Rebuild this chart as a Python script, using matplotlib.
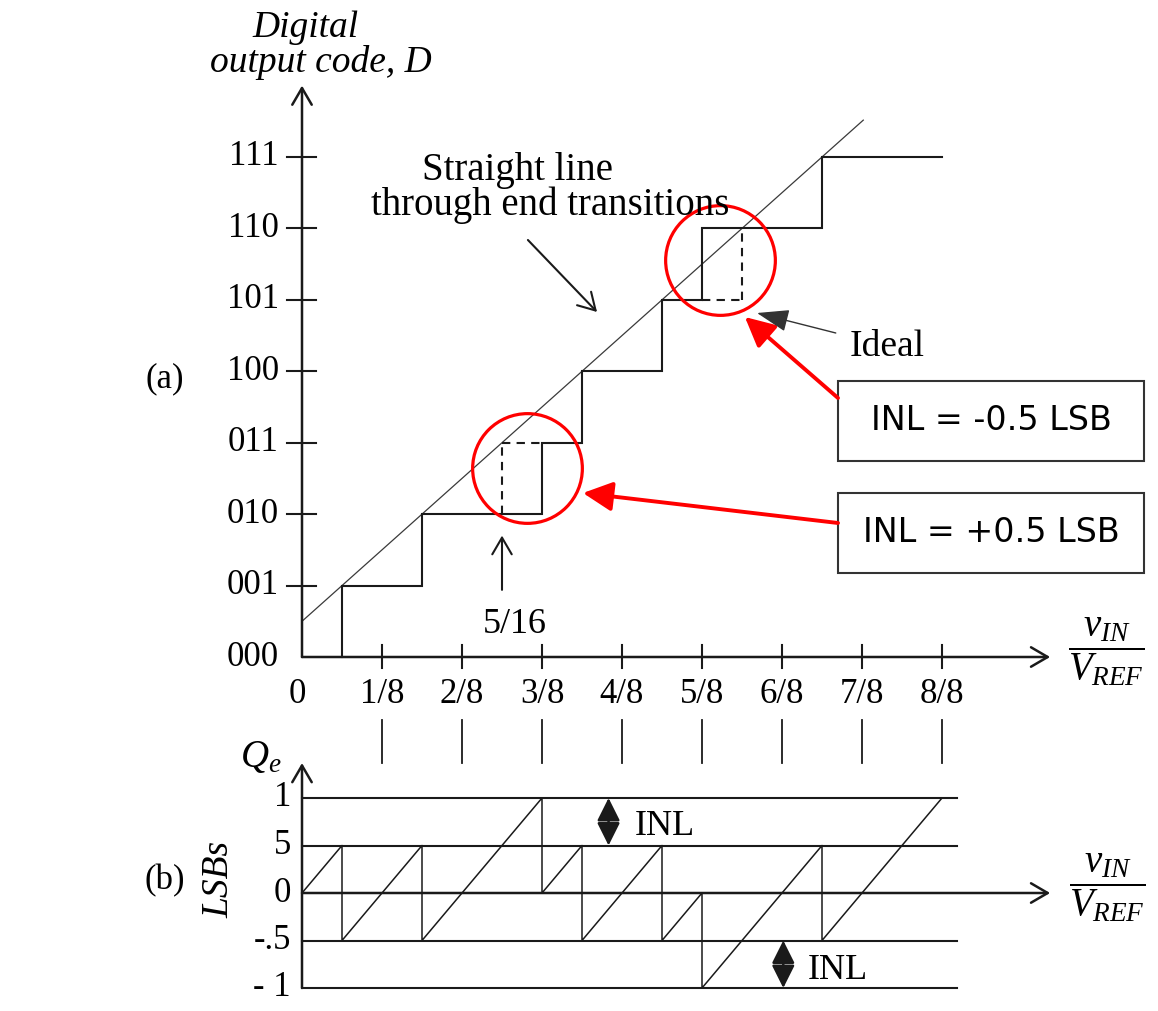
import numpy as np
import matplotlib.pyplot as plt
from matplotlib.patches import Rectangle

plt.rcParams['font.family'] = ['Liberation Serif', 'DejaVu Serif']
plt.rcParams['mathtext.fontset'] = 'custom'
plt.rcParams['mathtext.rm'] = 'Liberation Serif'
plt.rcParams['mathtext.it'] = 'Liberation Serif:italic'

# 3-bit ADC: input (fraction of VREF) where each output code starts
codes = np.arange(1, 8)
code_labels = ['000', '001', '010', '011', '100', '101', '110', '111']
actual_transitions = np.array([1, 3, 6, 7, 9, 10, 13]) / 16
ideal_transitions = np.array([1, 3, 5, 7, 9, 11, 13]) / 16
x_ticks = np.arange(0, 9) / 8
x_tick_labels = ['0', '1/8', '2/8', '3/8', '4/8', '5/8', '6/8', '7/8', '8/8']
qe_levels = [1, 0.5, 0, -0.5, -1]
qe_labels = ['1', '5', '0', '-.5', '- 1']
inl_labels = ['INL = -0.5 LSB', 'INL = +0.5 LSB']

INK = '#1a1a1a'
RED = '#ff0000'
W, H = 1158, 1011

fig = plt.figure(figsize=(W / 100, H / 100), dpi=100)

# both panels share one horizontal scale: 640 px per VREF, origin at x=302 px
xlim = (-302 / 640, (W - 302) / 640)
ax = fig.add_axes([0, 0, 1, 1], label='transfer')
ax.set_xlim(*xlim)
ax.set_ylim((657 - H) / 71.43, 657 / 71.43)
ax.axis('off')

bx = fig.add_axes([0, 0, 1, 1], label='error')
bx.set_xlim(*xlim)
bx.set_ylim((893 - H) / 95, 893 / 95)
bx.axis('off')
bx.patch.set_visible(False)


def arrow(axes, tail, head, lw=1.8, color=INK, style='->,head_length=0.6,head_width=0.35', ms=20):
    axes.annotate('', xy=head, xytext=tail,
                  arrowprops=dict(arrowstyle=style, lw=lw, color=color,
                                  shrinkA=0, shrinkB=0, mutation_scale=ms))


# ---------- (a) transfer characteristic ----------
arrow(ax, (0, 0), (0, 8.0))
arrow(ax, (0, 0), (1.169, 0))
for c in codes:
    ax.plot([-0.023, 0.022], [c, c], color=INK, lw=1.5)
for t in x_ticks[1:]:
    ax.plot([t, t], [-0.154, 0.168], color=INK, lw=1.5)
for c, lab in enumerate(code_labels):
    ax.text(-0.036, c, lab, ha='right', va='center', fontsize=25)
for t, lab in zip(x_ticks, x_tick_labels):
    ax.text(t - (0.008 if t == 0 else 0), -0.52, lab, ha='center', va='center', fontsize=25)

# straight line through the first and last transitions
slope = (codes[-1] - codes[0]) / (actual_transitions[-1] - actual_transitions[0])
intercept = codes[0] - slope * actual_transitions[0]
line_x = np.array([0, 0.877])
ax.plot(line_x, slope * line_x + intercept, color='#3a3a3a', lw=0.9)

# actual staircase
edges = list(actual_transitions) + [1.0]
stair_x, stair_y = [], []
for i, c in enumerate(codes):
    stair_x += [edges[i], edges[i], edges[i + 1]]
    stair_y += [c - 1, c, c]
ax.plot(stair_x, stair_y, color=INK, lw=1.5, solid_joinstyle='miter')

# ideal transitions where the real ones differ
off = np.flatnonzero(actual_transitions != ideal_transitions)
for i in off:
    ti, ta, c = ideal_transitions[i], actual_transitions[i], codes[i]
    ax.plot([ti, ti], [c - 1, c], color=INK, lw=1.5, ls=(0, (4, 3)))
    level = c if ta > ti else c - 1
    ax.plot([min(ti, ta), max(ti, ta)], [level, level], color=INK, lw=1.5, ls=(0, (4, 3)))

for i, dx, dy in zip(off, [0.008, -0.003], [0.15, 0.06]):
    cx = (ideal_transitions[i] + actual_transitions[i]) / 2 + dx
    cy = codes[i] - 0.5 + dy
    ax.plot(cx, cy, 'o', ms=79, mfc='none', mec=RED, mew=2.3)

# INL boxes with red pointers
box_rows = [(2.744, 3.864), (1.176, 2.296)]
for (y0, y1), lab in zip(box_rows, inl_labels):
    ax.add_patch(Rectangle((0.8375, y0), 1.3156 - 0.8375, y1 - y0,
                           fill=False, ec='#333333', lw=1.5))
    ax.text(1.0766, (y0 + y1) / 2, lab, ha='center', va='center',
            fontsize=24, family='DejaVu Sans')
red_style = '-|>,head_length=0.9,head_width=0.45'
arrow(ax, (0.8375, 3.626), (0.692, 4.76), lw=2.8, color=RED, style=red_style)
arrow(ax, (0.8375, 1.876), (0.439, 2.296), lw=2.8, color=RED, style=red_style)

arrow(ax, (0.834, 4.536), (0.711, 4.816), lw=1.0, color='#333333',
      style='-|>,head_length=1.0,head_width=0.35')
ax.text(0.856, 4.34, 'Ideal', ha='left', va='center', fontsize=27)

ax.text(0.336, (657 - 180) / 71.43, 'Straight line', ha='center', va='baseline', fontsize=28)
ax.text(0.388, (657 - 215) / 71.43, 'through end transitions', ha='center', va='baseline', fontsize=28)
arrow(ax, (0.353, 5.838), (0.461, 4.83), lw=1.5)

t516 = ideal_transitions[off[0]]
arrow(ax, (t516, 0.94), (t516, 1.70), lw=1.5)
ax.text(t516 + 0.02, (657 - 633) / 71.43, '5/16', ha='center', va='baseline', fontsize=26)

ax.text(-0.214, 3.9, '(a)', ha='center', va='center', fontsize=25)
ax.text(0.005, (657 - 37) / 71.43, 'Digital', ha='center', va='baseline',
        fontsize=27, style='italic')
ax.text(0.03, (657 - 72) / 71.43, 'output code, D', ha='center', va='baseline',
        fontsize=27, style='italic')
ax.text(1.256, 0.07, r'$\dfrac{v_{IN}}{V_{REF}}$', ha='center', va='center', fontsize=28)

# tick marks between the panels
for t in x_ticks[1:]:
    bx.plot([t, t], [1.368, 1.821], color=INK, lw=1.3)

# ---------- (b) quantization error ----------
for q in qe_levels:
    if q != 0:
        bx.plot([0, 1.0234], [q, q], color=INK, lw=1.5)
arrow(bx, (0, 0), (1.169, 0))
arrow(bx, (0, -1), (0, 1.368))
for q, lab in zip(qe_levels, qe_labels):
    bx.text(-0.017, q, lab, ha='right', va='center', fontsize=25)

qe_x, qe_y = [0.0], [0.0]
for t, c in zip(actual_transitions, codes):
    qe_x += [t, t]
    qe_y += [8 * t - (c - 1), 8 * t - c]
qe_x.append(1.0)
qe_y.append(8 * 1.0 - codes[-1])
bx.plot(qe_x, qe_y, color=INK, lw=1.1)

inl_pos = max(qe_y) - 0.5
inl_neg = min(qe_y) + 0.5
dbl = '<|-|>,head_length=0.7,head_width=0.35'
arrow(bx, (0.479, 0.5), (0.479, 0.5 + inl_pos), lw=1.8, style=dbl)
arrow(bx, (0.752, -0.5), (0.752, -0.5 + inl_neg), lw=1.8, style=dbl)
bx.text(0.52, 0.70, 'INL', ha='left', va='center', fontsize=26)
bx.text(0.79, -0.82, 'INL', ha='left', va='center', fontsize=26)

bx.text(-0.065, 1.43, r'$Q_e$', ha='center', va='center', fontsize=28)
bx.text(-0.13, 0.14, 'LSBs', ha='center', va='center', rotation=90,
        fontsize=27, style='italic')
bx.text(-0.214, 0.13, '(b)', ha='center', va='center', fontsize=25)
bx.text(1.258, 0.053, r'$\dfrac{v_{IN}}{V_{REF}}$', ha='center', va='center', fontsize=28)

fig.savefig('out.png', dpi=100)
